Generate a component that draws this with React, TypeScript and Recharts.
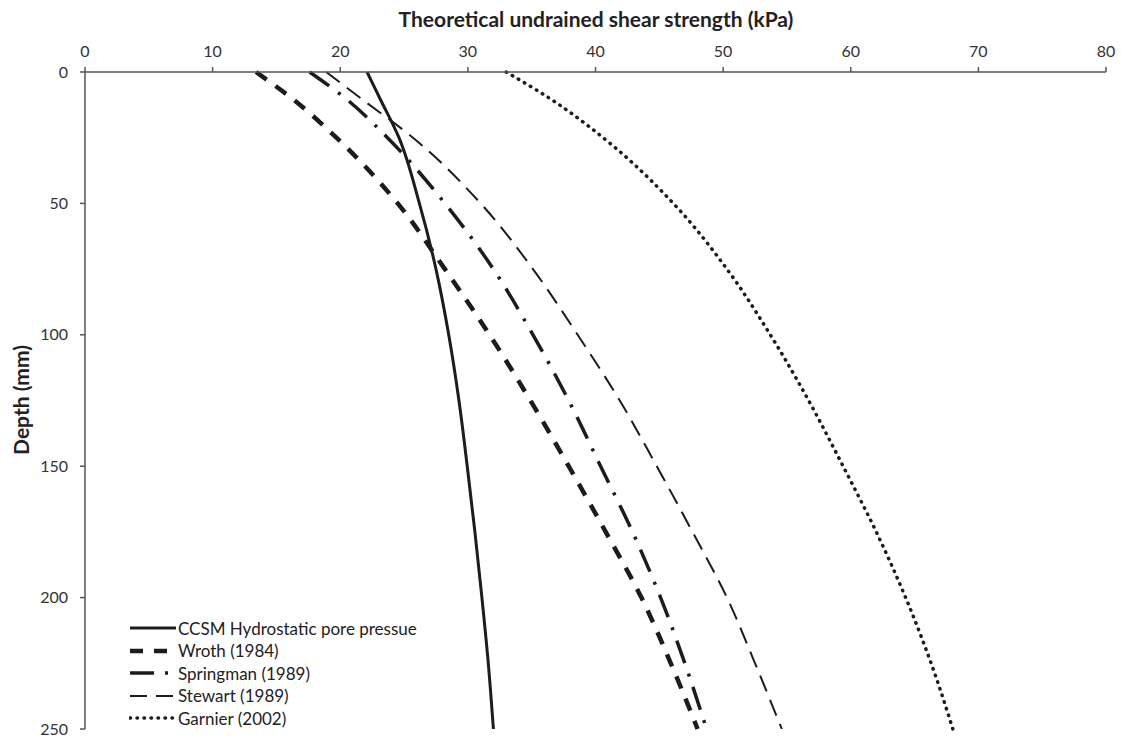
import React from 'react';
import { LineChart, Line, XAxis, YAxis } from 'recharts';

const depth = [0, 10, 25, 50, 75, 100, 125, 150, 175, 200, 225, 250];
const ccsm = [22.1, 23.1, 24.6, 26.2, 27.5, 28.5, 29.3, 29.95, 30.55, 31.1, 31.6, 32.0];
const wroth = [13.4, 16.2, 19.7, 24.5, 28.2, 31.7, 34.9, 37.9, 40.8, 43.6, 45.9, 48.0];
const springman = [17.6, 20.4, 23.7, 28.2, 32.0, 35.1, 37.9, 40.4, 42.9, 45.1, 47.0, 48.7];
const stewart = [18.9, 21.6, 25.7, 31.0, 35.1, 38.6, 41.9, 44.8, 47.6, 50.3, 52.5, 54.6];
const garnier = [33.0, 36.4, 40.6, 46.1, 50.3, 53.7, 56.7, 59.4, 62.0, 64.3, 66.3, 68.0];

const xTicks = [0, 10, 20, 30, 40, 50, 60, 70, 80];
const yTicks = [0, 50, 100, 150, 200, 250];

const rows = depth.map((d, i) => ({
  depth: d,
  ccsm: ccsm[i],
  wroth: wroth[i],
  springman: springman[i],
  stewart: stewart[i],
  garnier: garnier[i],
}));

const INK = '#1c1c1c';
const FONT = 'Lato, "Open Sans", sans-serif';

const series = [
  { key: 'ccsm', name: 'CCSM Hydrostatic pore pressue', width: 3, dash: undefined, cap: 'butt' },
  { key: 'wroth', name: 'Wroth (1984)', width: 4.5, dash: '13 11', cap: 'butt' },
  { key: 'springman', name: 'Springman (1989)', width: 3.5, dash: '24 11 3 11', cap: 'butt' },
  { key: 'stewart', name: 'Stewart (1989)', width: 2, dash: '17 9', cap: 'butt' },
  { key: 'garnier', name: 'Garnier (2002)', width: 3.5, dash: '0.5 6.5', cap: 'round' },
] as const;

const LegendBox = () => (
  <div
    style={{
      position: 'absolute',
      left: 121,
      top: 609,
      fontFamily: FONT,
      fontSize: 17,
      color: '#222',
    }}
  >
    {series.map((s) => (
      <div key={s.key} style={{ display: 'flex', alignItems: 'center', height: 22.5 }}>
        <svg width={48} height={10} style={{ marginRight: 1 }}>
          <line
            x1={1}
            y1={5}
            x2={47}
            y2={5}
            stroke={INK}
            strokeWidth={s.width}
            strokeDasharray={s.dash}
            strokeLinecap={s.cap}
          />
        </svg>
        <span>{s.name}</span>
      </div>
    ))}
  </div>
);

export default function App() {
  return (
    <div style={{ position: 'relative', width: 1113, height: 734, background: '#fff' }}>
      <LineChart
        layout="vertical"
        width={1113}
        height={734}
        data={rows}
        margin={{ top: 24, right: 15, bottom: 13, left: 0 }}
      >
        <XAxis
          type="number"
          orientation="top"
          domain={[0, 80]}
          ticks={xTicks}
          height={40}
          tickSize={5}
          tickMargin={10}
          axisLine={{ stroke: '#555', strokeWidth: 1.5 }}
          tickLine={{ stroke: '#555', strokeWidth: 1.5 }}
          tick={{ fill: '#333', fontSize: 16, fontFamily: FONT }}
        />
        <YAxis
          type="number"
          dataKey="depth"
          domain={[0, 250]}
          ticks={yTicks}
          width={77}
          tickSize={5}
          tickMargin={12}
          axisLine={{ stroke: '#555', strokeWidth: 1.5 }}
          tickLine={{ stroke: '#555', strokeWidth: 1.5 }}
          tick={{ fill: '#333', fontSize: 16, fontFamily: FONT }}
        />
        {series.map((s) => (
          <Line
            key={s.key}
            dataKey={s.key}
            name={s.name}
            type="monotone"
            stroke={INK}
            strokeWidth={s.width}
            strokeDasharray={s.dash}
            strokeLinecap={s.cap}
            dot={false}
            activeDot={false}
            isAnimationActive={false}
          />
        ))}
      </LineChart>
      <LegendBox />
      <div
        style={{
          position: 'absolute',
          top: -2,
          left: 588,
          transform: 'translateX(-50%)',
          whiteSpace: 'nowrap',
          fontFamily: FONT,
          fontWeight: 700,
          fontSize: 21,
          color: '#222',
          lineHeight: '26px',
        }}
      >
        Theoretical undrained shear strength (kPa)
      </div>
      <div
        style={{
          position: 'absolute',
          left: 12,
          top: 392,
          transform: 'translate(-50%, -50%) rotate(-90deg)',
          whiteSpace: 'nowrap',
          fontFamily: FONT,
          fontWeight: 700,
          fontSize: 21,
          color: '#222',
        }}
      >
        Depth (mm)
      </div>
    </div>
  );
}
